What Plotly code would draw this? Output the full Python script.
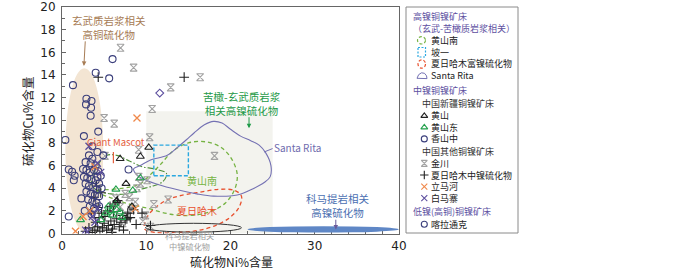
import plotly.graph_objects as go

# ---------------- data (sulfide Ni %, sulfide Cu %) ----------------
kalatongke_ni = [1.3, 4.0, 6.0, 5.6, 2.9, 3.5, 2.85, 3.45, 3.4, 4.3, 2.6, 0.4, 0.8, 1.5, 0.8, 7.9]
kalatongke_cu = [13.1, 14.2, 15.4, 13.7, 11.9, 11.7, 11.4, 11.1, 10.4, 9.0, 8.6, 8.25, 5.65, 5.1, 1.5, 5.65]

xiangshanzhong_ni = [4.2, 4.9, 3.2, 3.6, 2.8, 3.4, 4.0, 2.5, 2.9, 3.3, 3.8, 4.3, 4.6, 2.6, 3.0, 3.5, 4.0, 4.4,
                     2.8, 3.2, 3.7, 4.1, 4.7, 2.9, 3.4, 3.9, 4.4, 3.1, 3.6, 4.1, 3.3, 3.8, 4.4, 3.5, 2.7, 1.4,
                     1.2, 3.6, 2.3, 4.2]
xiangshanzhong_cu = [7.2, 6.9, 6.9, 6.6, 6.3, 6.2, 6.0, 5.7, 5.6, 5.4, 5.6, 5.5, 5.1, 5.0, 4.9, 4.8, 4.7, 4.4,
                     4.4, 4.2, 4.1, 3.9, 4.0, 3.7, 3.5, 3.4, 3.3, 3.0, 2.8, 2.7, 2.4, 2.2, 2.4, 1.7, 2.0, 4.7,
                     5.45, 7.7, 3.1, 5.0]

huangshan_ni = [10.3, 9.3, 6.9, 7.6, 6.5, 8.3]
huangshan_cu = [7.6, 6.8, 6.6, 4.4, 2.9, 2.4]

huangshandong_ni = [6.4, 8.4, 9.3, 2.2, 5.5, 6.5, 6.0, 6.9, 4.6, 5.2, 7.1, 6.3, 5.8]
huangshandong_cu = [3.9, 3.8, 4.9, 1.2, 2.4, 2.1, 1.6, 1.9, 1.2, 1.8, 1.4, 2.6, 2.0]

jinchuan_ni = [6.95, 8.5, 10.7, 12.9, 16.4, 5.0, 6.2, 18.1, 10.4, 9.1, 9.1, 9.3, 8.9, 10.1, 10.9, 12.6, 7.5,
               5.1, 8.7, 6.9, 9.9, 10.5, 7.8, 8.2, 7.2, 9.6, 6.4, 8.0]
jinchuan_cu = [16.4, 14.65, 11.0, 12.9, 13.8, 10.2, 9.7, 6.85, 8.5, 7.4, 5.0, 4.4, 4.0, 4.7, 2.6, 3.0, 3.5,
               6.85, 2.8, 2.35, 1.6, 0.6, 1.6, 2.1, 0.9, 1.1, 3.1, 3.2]

xrhm_mid_ni = [3.6, 3.9, 4.2, 4.5, 4.8, 5.0, 5.3, 5.5, 5.8, 6.0, 6.2, 6.5, 6.8, 7.0, 7.2, 7.5, 7.8, 8.1,
               4.0, 4.4, 4.7, 5.1, 5.4, 5.7, 6.1, 6.3, 3.8, 4.3, 4.6, 6.6, 7.7, 8.5, 9.5, 10.5, 4.3, 14.5,
               2.8, 3.2, 5.9, 7.3, 8.8, 4.1, 3.5]
xrhm_mid_cu = [0.1, 0.3, 0.6, 0.2, 0.5, 0.9, 0.3, 0.7, 1.1, 0.4, 0.8, 1.3, 0.6, 1.0, 1.6, 1.2, 1.8, 1.4,
               1.0, 1.4, 1.8, 1.5, 2.0, 2.4, 1.9, 2.6, 3.2, 2.3, 3.6, 2.9, 1.3, 2.1, 1.8, 0.7, 13.8, 13.8,
               0.2, 0.5, 0.1, 0.3, 0.8, 4.2, 1.8]

limahe_ni = [8.9, 1.6, 3.3, 3.9, 8.7, 2.5]
limahe_cu = [10.2, 0.2, 2.0, 5.9, 2.2, 1.5]

baimazhai_ni = [3.2, 4.2, 3.9, 2.8, 4.2, 3.6, 3.0, 4.6]
baimazhai_cu = [7.7, 6.2, 1.0, 0.3, 2.2, 1.5, 0.15, 5.4]

other_ni = [11.6]
other_cu = [12.4]

# field outlines (Ni %, Cu %)
santa_rita_ni = [8.5, 9.3, 10.5, 12.5, 13.7, 14.8, 15.7, 16.9, 18.0, 19.0, 20.0, 21.2, 22.4, 23.4, 24.2,
                 24.8, 24.7, 24.0, 22.8, 20.8, 18.0, 16.0, 13.5, 11.5, 10.0, 9.0]
santa_rita_cu = [5.7, 6.0, 6.5, 6.9, 7.6, 8.3, 8.9, 9.6, 9.9, 9.75, 9.2, 8.6, 8.2, 7.8, 7.1,
                 6.0, 5.0, 4.5, 4.0, 3.4, 3.3, 3.5, 3.9, 4.3, 4.7, 5.1]

huangshannan_ni = [4.0, 6.0, 8.0, 9.3, 10.5, 11.7, 13.2, 15.0, 17.0, 18.9, 20.2, 20.8, 20.5, 19.4, 17.5,
                   15.3, 12.9, 10.3, 8.0, 6.0, 4.6]
huangshannan_cu = [3.8, 3.9, 4.1, 4.4, 5.2, 6.1, 7.3, 8.0, 8.1, 7.6, 6.5, 5.2, 3.9, 2.7, 1.9,
                   1.6, 1.7, 2.2, 2.6, 3.1, 3.5]

huangshan_field_ni = [3.5, 4.2, 5.3, 6.5, 8.0, 9.5, 11.0, 12.4, 12.0, 10.8, 9.3, 7.7, 5.8, 4.2]
huangshan_field_cu = [4.4, 6.0, 6.9, 6.9, 6.4, 5.9, 5.7, 5.3, 4.6, 4.2, 3.9, 3.5, 3.5, 3.8]

xrhm_rich_ni = [9.8, 10.0, 10.8, 12.3, 13.8, 16.0, 18.6, 20.5, 21.3, 21.0, 19.9, 18.2, 16.0, 13.5, 11.0]
xrhm_rich_cu = [0.4, 1.3, 2.1, 2.9, 3.3, 3.6, 3.9, 3.8, 3.3, 2.3, 1.4, 0.7, 0.25, 0.1, 0.1]

poyi_box = [10.9, 15.0, 5.1, 7.8]             # Ni min, Ni max, Cu min, Cu max
high_cu_field = [0.4, 4.9, 0.2, 14.6]
picrite_field = [10.0, 25.0, 0.0, 10.8]
komatiite_mid = [9.9, 21.3, 0.12, 0.9]
komatiite_high = [22.0, 40.0, 0.08, 0.65]

x_ticks = [0, 10, 20, 30, 40]
y_ticks = [0, 2, 4, 6, 8, 10, 12, 14, 16, 18, 20]

# ---------------- figure ----------------
W, H = 700, 269
CJK = "Noto Sans CJK SC, Noto Sans, sans-serif"
NAVY = "#3b3f7c"
PURPLE = "#5d4f9f"
fig = go.Figure()


def outline(xs, ys, color, dash, width=1.2):
    fig.add_trace(go.Scatter(x=xs + [xs[0]], y=ys + [ys[0]], mode="lines",
                             line=dict(color=color, dash=dash, width=width, shape="spline", smoothing=1.0),
                             hoverinfo="skip", showlegend=False))


def points(xs, ys, symbol, color, size=7, lw=1.1):
    fig.add_trace(go.Scatter(x=xs, y=ys, mode="markers",
                             marker=dict(symbol=symbol, size=size, color=color,
                                         line=dict(color=color, width=lw)),
                             showlegend=False))


outline(huangshan_field_ni, huangshan_field_cu, "#4f8f3a", "6px,2px,1.5px,2px", 1.1)
outline(huangshannan_ni, huangshannan_cu, "#76b343", "4px,3px", 1.3)
outline(xrhm_rich_ni, xrhm_rich_cu, "#e8502e", "4px,3px", 1.3)
outline(santa_rita_ni, santa_rita_cu, "#7471b3", "solid", 1.1)

points(jinchuan_ni, jinchuan_cu, "hourglass-open", "#a3a3a3")
points(xrhm_mid_ni, xrhm_mid_cu, "cross-thin-open", "#222222", 7, 1.1)
points(huangshandong_ni, huangshandong_cu, "triangle-up-open", "#23a04c")
points(huangshan_ni, huangshan_cu, "triangle-up-open", "#222222")
points(xiangshanzhong_ni, xiangshanzhong_cu, "circle-open", NAVY)
points(kalatongke_ni, kalatongke_cu, "circle-open", NAVY)
points(limahe_ni, limahe_cu, "x-thin-open", "#f0884a", 7, 1.3)
points(baimazhai_ni, baimazhai_cu, "x-thin-open", PURPLE, 7, 1.3)
points(other_ni, other_cu, "diamond-open", PURPLE, 6)

shapes = []
shapes.append(dict(type="rect", xref="x", yref="y", x0=picrite_field[0], x1=picrite_field[1],
                   y0=picrite_field[2], y1=picrite_field[3], fillcolor="#f3f3ee", line=dict(width=0), layer="below"))
shapes.append(dict(type="circle", xref="x", yref="y", x0=high_cu_field[0], x1=high_cu_field[1],
                   y0=high_cu_field[2], y1=high_cu_field[3], fillcolor="#f3e5d3", line=dict(width=0), layer="below"))
shapes.append(dict(type="rect", xref="x", yref="y", x0=poyi_box[0], x1=poyi_box[1], y0=poyi_box[2], y1=poyi_box[3],
                   line=dict(color="#2aa8e0", width=1.4, dash="4px,2px")))
shapes.append(dict(type="circle", xref="x", yref="y", x0=komatiite_mid[0], x1=komatiite_mid[1],
                   y0=komatiite_mid[2], y1=komatiite_mid[3], line=dict(color="#333333", width=1)))
shapes.append(dict(type="circle", xref="x", yref="y", x0=komatiite_high[0], x1=komatiite_high[1],
                   y0=komatiite_high[2], y1=komatiite_high[3], fillcolor="#5f87c6", line=dict(width=0)))
# Giant Mascot marker line
shapes.append(dict(type="line", xref="x", yref="y", x0=6.1, x1=6.1, y0=6.2, y1=7.2,
                   line=dict(color="#e4603e", width=1.2)))
# Santa Rita leader
shapes.append(dict(type="line", xref="x", yref="y", x0=24.0, x1=25.0, y0=7.2, y1=7.5,
                   line=dict(color="#7471b3", width=1)))

ann = []


def label(x, y, text, color, size, xanchor="center", xref="x", yref="y", align="center"):
    ann.append(dict(x=x, y=y, xref=xref, yref=yref, text=text, showarrow=False, xanchor=xanchor,
                    yanchor="middle", align=align, borderpad=0,
                    font=dict(family=CJK, size=size, color=color)))


def arrow(x, y, ax, ay, color):
    ann.append(dict(x=x, y=y, ax=ax, ay=ay, xref="x", yref="y", axref="x", ayref="y", text="",
                    showarrow=True, arrowhead=2, arrowsize=0.9, arrowwidth=1, arrowcolor=color))


BROWN = "#a77c55"
GREEN = "#1f9a48"
BLUE = "#4b6fb1"
label(5.57, 18.15, "玄武质岩浆相关<br>高铜硫化物", BROWN, 10.5)
arrow(2.6, 14.8, 2.77, 17.1, BROWN)
label(21.4, 11.45, "苦橄-玄武质岩浆<br>相关高镍硫化物", GREEN, 10.5)
arrow(22.2, 9.3, 22.2, 10.4, GREEN)
label(32.8, 2.5, "科马提岩相关<br>高镍硫化物", BLUE, 10.5)
arrow(32.5, 0.35, 32.5, 1.35, "#6a5a9a")
label(6.35, 8.1, "Giant Mascot", "#e4603e", 9.5)
label(25.0, 7.57, "Santa Rita", "#6f6cae", 10, xanchor="left")
label(16.6, 4.7, "黄山南", "#76b343", 10)
label(16.0, 2.06, "夏日哈木", "#e8502e", 10)
label(189.7 / W, 1 - 240.5 / H, "科马提岩相关<br>中镍硫化物", "#a0a0a0", 8.2, xref="paper", yref="paper")
# axis titles
label(231 / W, 1 - 261.3 / H, "硫化物Ni%含量", "#222222", 12, xref="paper", yref="paper")
ann.append(dict(x=27 / W, y=1 - 122 / H, xref="paper", yref="paper", text="硫化物Cu%含量", textangle=-90,
                xanchor="center", yanchor="middle", showarrow=False,
                font=dict(family=CJK, size=12.5, color="#222222")))

# ---------------- custom legend (pixel overlay axis x2/y2) ----------------
shapes.append(dict(type="rect", xref="x2", yref="y2", x0=406, x1=518, y0=7, y1=233,
                   line=dict(color="#8a8a8a", width=1), fillcolor="white", layer="below"))
legend_blocks = [(412, 22.5, "高镍铜镍矿床<br>（玄武-苦橄质岩浆相关）", PURPLE),
                 (430, 58.0, "黄山南<br>坡一<br>夏日哈木富镍硫化物<br>Santa Rita", "#222222"),
                 (412, 90.7, "中镍铜镍矿床", PURPLE),
                 (420.7, 103.3, "中国新疆铜镍矿床", "#333333"),
                 (430, 127.4, "黄山<br>黄山东<br>香山中", "#222222"),
                 (420.7, 151.7, "中国其他铜镍矿床", "#333333"),
                 (430, 180.8, "金川<br>夏日哈木中镍硫化物<br>立马河<br>白马寨", "#222222"),
                 (412, 211.4, "低镍(高铜)铜镍矿床", PURPLE),
                 (430, 224.3, "喀拉通克", "#222222")]
for lx, ly, t, c in legend_blocks:
    label(lx, ly, t, c, 9, xanchor="left", xref="x2", yref="y2", align="left")

shapes.append(dict(type="circle", xref="x2", yref="y2", x0=417.5, x1=425.5, y0=36.6, y1=44.0,
                   line=dict(color="#76b343", width=1.2, dash="3px,2px")))
shapes.append(dict(type="rect", xref="x2", yref="y2", x0=418, x1=425.5, y0=47.5, y1=57,
                   line=dict(color="#2aa8e0", width=1.2, dash="2px,1.5px")))
shapes.append(dict(type="circle", xref="x2", yref="y2", x0=418, x1=425.5, y0=59.8, y1=68.2,
                   line=dict(color="#e8502e", width=1.2, dash="3px,2px")))
shapes.append(dict(type="path", xref="x2", yref="y2",
                   path="M 417 78.3 Q 418 73.8 421.5 72.8 Q 425 72.3 426.5 75.8 L 427 78.6 Z",
                   line=dict(color="#7471b3", width=1)))

legend_marks = [(115.9, "triangle-up-open", "#222222"), (127.4, "triangle-up-open", "#23a04c"),
                (138.9, "circle-open", NAVY), (163.4, "hourglass-open", "#a3a3a3"),
                (175.0, "cross-thin-open", "#222222"), (186.6, "x-thin-open", "#f0884a"),
                (198.2, "x-thin-open", PURPLE), (224.3, "circle-open", NAVY)]
for ly, sym, c in legend_marks:
    fig.add_trace(go.Scatter(x=[424.3], y=[ly], xaxis="x2", yaxis="y2", mode="markers", cliponaxis=False,
                             marker=dict(symbol=sym, size=6, color=c, line=dict(color=c, width=1.1)),
                             showlegend=False, hoverinfo="skip"))

tickfont = dict(family="DejaVu Sans, sans-serif", size=12, color="#222222")
fig.update_layout(
    width=W, height=H, margin=dict(l=0, r=0, t=0, b=0), autosize=False,
    paper_bgcolor="white", plot_bgcolor="rgba(0,0,0,0)", showlegend=False,
    shapes=shapes, annotations=ann,
    xaxis=dict(domain=[62 / W, 399 / W], range=[0, 40], tickvals=x_ticks, ticks="inside", ticklen=4,
               tickcolor="#666666", showline=True, mirror=True, linecolor="#666666", linewidth=1,
               showgrid=False, zeroline=False, tickfont=tickfont, automargin=False, ticklabelstandoff=1,
               minor=dict(dtick=2, ticks="inside", ticklen=3, tickcolor="#666666", showgrid=False)),
    yaxis=dict(domain=[1 - 233.5 / H, 1 - 7 / H], range=[0, 20], tickvals=y_ticks, ticks="inside", ticklen=4,
               tickcolor="#666666", showline=True, mirror=True, linecolor="#666666", linewidth=1,
               showgrid=False, zeroline=False, tickfont=tickfont, automargin=False, ticklabelstandoff=3,
               minor=dict(dtick=1, ticks="inside", ticklen=3, tickcolor="#666666", showgrid=False)),
    xaxis2=dict(domain=[0, 1], range=[0, W], visible=False, anchor="y2", fixedrange=True),
    yaxis2=dict(domain=[0, 1], range=[H, 0], visible=False, anchor="x2", fixedrange=True),
)

fig.write_html("out.html", config={"displayModeBar": False},
               post_script="document.body.style.margin='0';document.body.style.padding='0';")
